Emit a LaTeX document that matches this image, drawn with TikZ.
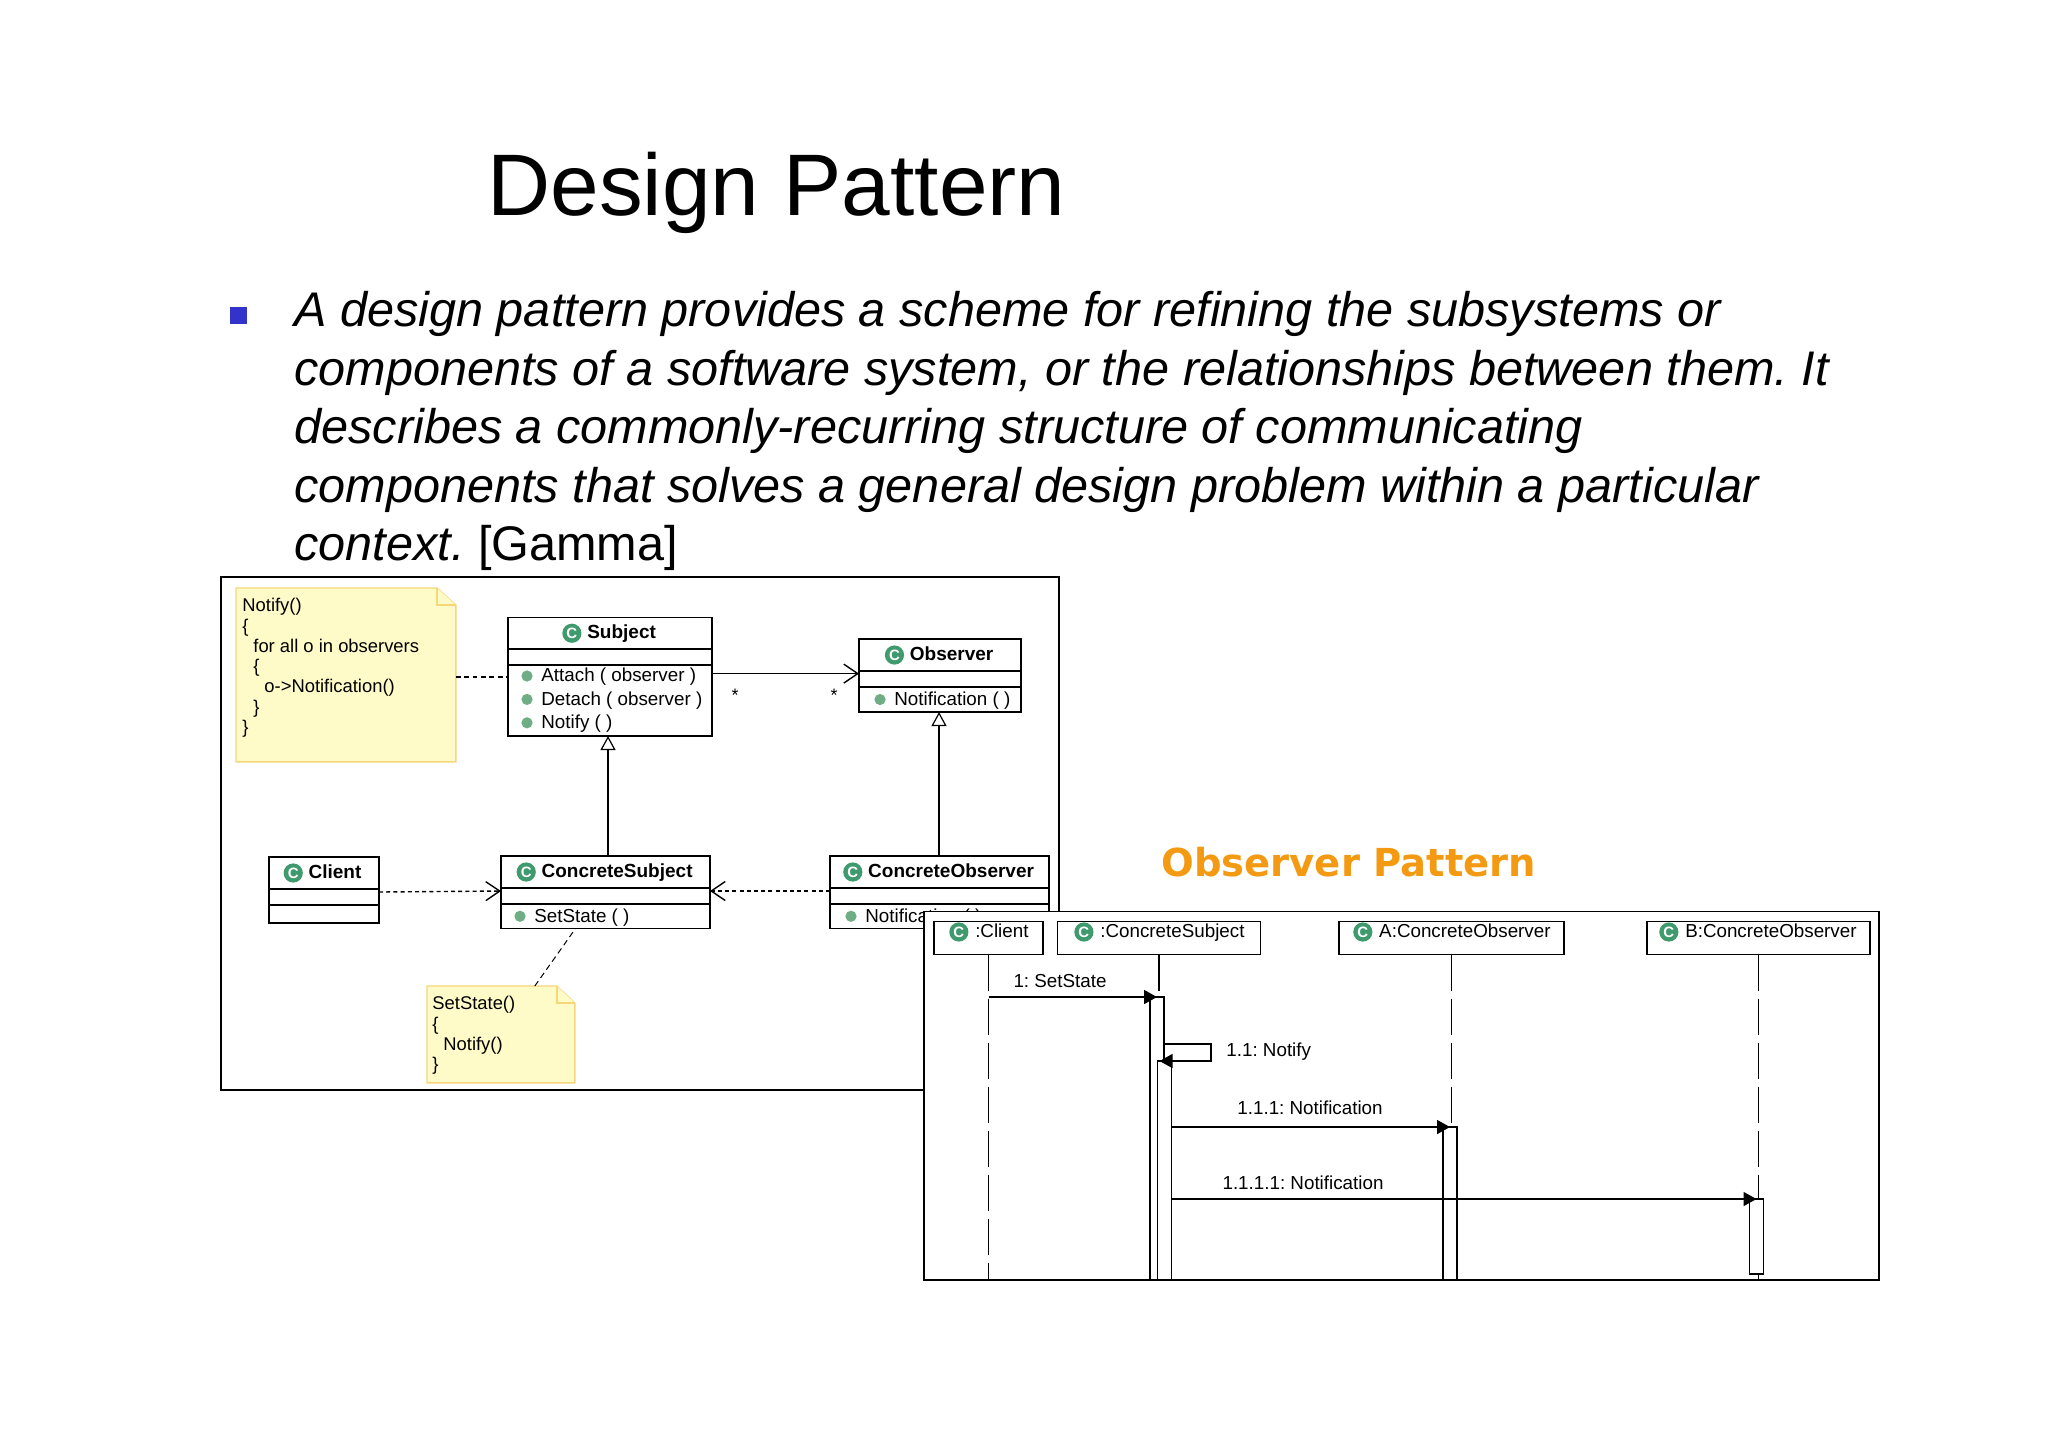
\documentclass[tikz,border=0pt]{standalone}
\usepackage{fontspec}
\setmainfont{Liberation Sans}
\newfontfamily\headingfont{DejaVu Sans}
\usetikzlibrary{positioning, arrows.meta, calc}
\definecolor{iconfill}{HTML}{3F9A6E}
\definecolor{dotfill}{HTML}{6FAE85}
\definecolor{notefill}{HTML}{FFFBC8}
\definecolor{noteedge}{HTML}{F5D77A}
\definecolor{bulletblue}{HTML}{3333CC}
\definecolor{patternorange}{HTML}{F39A12}
\frenchspacing

\begin{document}
\begin{tikzpicture}[x=0.5pt, y=-0.5pt,
    framebox/.style={draw, line width=0.8pt, fill=white},
    compart/.style={draw, line width=0.7pt, fill=white, inner sep=0pt, outer sep=0pt},
    titletext/.style={font=\fontsize{9.5}{11}\selectfont\bfseries, inner sep=0pt, text height=7pt, text depth=2pt},
    cicon/.style={circle, fill=iconfill, text=white, inner sep=0pt, minimum size=9.6pt, font=\fontsize{7.5}{8}\selectfont\bfseries},
    opdot/.style={circle, fill=dotfill, inner sep=0pt, minimum size=5.6pt},
    optext/.style={font=\fontsize{9.4}{11}\selectfont, inner sep=0pt, yshift=-0.5pt},
    notetext/.style={font=\fontsize{9.2}{10.15}\selectfont, align=left, inner sep=0pt, anchor=north west},
    noteline/.style={draw=noteedge, fill=notefill, line width=0.7pt},
    seqtext/.style={font=\fontsize{9.4}{11}\selectfont, inner sep=0pt, text height=7pt, text depth=2pt},
    lifeline/.style={line width=0.8pt, dash pattern=on 18pt off 4pt},
    actbox/.style={draw, line width=0.7pt, fill=white, minimum width=7pt, inner sep=0pt, outer sep=0pt, anchor=north},
    message/.style={line width=0.7pt, -{Triangle[length=6.5pt, width=7pt]}},
    inherit/.style={line width=0.6pt, -{Triangle[open, length=7pt, width=7.5pt]}},
    depend/.style={line width=0.7pt, dash pattern=on 2pt off 1.6pt, -{Straight Barb[length=7pt, width=9.5pt]}},
    bodyline/.style={font=\fontsize{24.3}{30}\selectfont\itshape, inner sep=0pt, anchor=base west}]
    \useasboundingbox (0,0) rectangle (2048,1447);

    % slide text
    \node[font=\fontsize{43.7}{50}\selectfont, inner sep=0pt, anchor=base west] (title) at (487,215.5) {Design Pattern};
    \node[fill=bulletblue, minimum size=8.5pt, inner sep=0pt] (bullet) at (238.5,315) {};
    \node[bodyline] (line1) at (294,326) {A design pattern provides a scheme for refining the subsystems or};
    \node[bodyline] (line2) at (294,385) {components of a software system, or the relationships between them. It};
    \node[bodyline] (line3) at (294,443.5) {describes a commonly-recurring structure of communicating};
    \node[bodyline] (line4) at (294,502) {components that solves a general design problem within a particular};
    \node[bodyline] (line5) at (294,560.5) {context. \upshape [Gamma]};

    % class diagram
    \draw[framebox] (221,577) rectangle (1059,1090);

    \node[inner sep=0pt, minimum width=109.5pt, minimum height=86.5pt, anchor=north west] (note1) at (236,588) {};
    \draw[noteline] (note1.north west) -- ([xshift=-9.5pt]note1.north east) -- ([yshift=-8.5pt]note1.north east)
        -- (note1.south east) -- (note1.south west) -- cycle;
    \draw[noteline] ([xshift=-9.5pt]note1.north east) -- ([xshift=-9.5pt,yshift=-8.5pt]note1.north east) -- ([yshift=-8.5pt]note1.north east);
    \node[notetext] (note1text) at ([xshift=3pt,yshift=-5pt]note1.north west)
        {Notify()\\\{\\\hspace{5.5pt}for all o in observers\\\hspace{5.5pt}\{\\\hspace{11pt}o->Notification()\\\hspace{5.5pt}\}\\\}};

    \node[inner sep=0pt, minimum width=73.5pt, minimum height=48pt, anchor=north west] (note2) at (427,986) {};
    \draw[noteline] (note2.north west) -- ([xshift=-9pt]note2.north east) -- ([yshift=-8.5pt]note2.north east)
        -- (note2.south east) -- (note2.south west) -- cycle;
    \draw[noteline] ([xshift=-9pt]note2.north east) -- ([xshift=-9pt,yshift=-8.5pt]note2.north east) -- ([yshift=-8.5pt]note2.north east);
    \node[notetext] (note2text) at ([xshift=2.5pt,yshift=-5pt]note2.north west)
        {SetState()\\\{\\\hspace{5.5pt}Notify()\\\}};

    % Subject
    \node[compart, minimum width=102pt, minimum height=15.75pt, anchor=north west] (subject) at (508,617.5) {};
    \node[compart, minimum width=102pt, minimum height=8pt, below=0pt of subject] (subjectattr) {};
    \node[compart, minimum width=102pt, minimum height=35.5pt, below=0pt of subjectattr] (subjectops) {};
    \node[titletext] (subjectname) at ([xshift=5.8pt]subject) {Subject};
    \node[cicon, left=2.5pt of subjectname] (subjecticon) {C};
    \node[opdot] (attachdot) at ([xshift=9.5pt,yshift=-5.5pt]subjectops.north west) {};
    \node[opdot, below=5.7pt of attachdot] (detachdot) {};
    \node[opdot, below=5.7pt of detachdot] (notifydot) {};
    \node[optext, right=4pt of attachdot] (attach) {Attach ( observer )};
    \node[optext, right=4pt of detachdot] (detach) {Detach ( observer )};
    \node[optext, right=4pt of notifydot] (notify) {Notify ( )};

    % Observer
    \node[compart, minimum width=81pt, minimum height=16pt, anchor=north west] (observer) at (859,639) {};
    \node[compart, minimum width=81pt, minimum height=8pt, below=0pt of observer] (observerattr) {};
    \node[compart, minimum width=81pt, minimum height=12.5pt, below=0pt of observerattr] (observerops) {};
    \node[titletext] (observername) at ([xshift=5.8pt]observer) {Observer};
    \node[cicon, left=2.5pt of observername] (observericon) {C};
    \node[opdot] (obsdot) at ([xshift=10.5pt]observerops.west) {};
    \node[optext, right=4pt of obsdot] (obsnotif) {Notification ( )};

    % Client
    \node[compart, minimum width=55pt, minimum height=16pt, anchor=north west] (client) at (269,857) {};
    \node[compart, minimum width=55pt, minimum height=8pt, below=0pt of client] (clientattr) {};
    \node[compart, minimum width=55pt, minimum height=9pt, below=0pt of clientattr] (clientops) {};
    \node[titletext] (clientname) at ([xshift=5.5pt]client) {Client};
    \node[cicon, left=2.5pt of clientname] (clienticon) {C};

    % ConcreteSubject
    \node[compart, minimum width=104.5pt, minimum height=16pt, anchor=north west] (csubject) at (501,856) {};
    \node[compart, minimum width=104.5pt, minimum height=8pt, below=0pt of csubject] (csubjectattr) {};
    \node[compart, minimum width=104.5pt, minimum height=12.25pt, below=0pt of csubjectattr] (csubjectops) {};
    \node[titletext] (csubjectname) at ([xshift=5.8pt]csubject) {ConcreteSubject};
    \node[cicon, left=2.5pt of csubjectname] (csubjecticon) {C};
    \node[opdot] (setstatedot) at ([xshift=9.5pt]csubjectops.west) {};
    \node[optext, right=4pt of setstatedot] (setstate) {SetState ( )};

    % ConcreteObserver
    \node[compart, minimum width=109.5pt, minimum height=16pt, anchor=north west] (cobserver) at (830,856) {};
    \node[compart, minimum width=109.5pt, minimum height=8pt, below=0pt of cobserver] (cobserverattr) {};
    \node[compart, minimum width=109.5pt, minimum height=12.25pt, below=0pt of cobserverattr] (cobserverops) {};
    \node[titletext] (cobservername) at ([xshift=5.8pt]cobserver) {ConcreteObserver};
    \node[cicon, left=2.5pt of cobservername] (cobservericon) {C};
    \node[opdot] (cobsdot) at ([xshift=10.5pt]cobserverops.west) {};
    \node[optext, right=4pt of cobsdot] (cobsnotif) {Notification ( )};

    \node[font=\fontsize{9}{10}\selectfont, inner sep=0pt] (manyleft) at (735,695) {*};
    \node[font=\fontsize{9}{10}\selectfont, inner sep=0pt] (manyright) at (834,695) {*};

    \draw[line width=0.7pt, -{Straight Barb[length=7pt, width=9.5pt]}] ([yshift=-4.3pt]subjectops.north east) -- ([yshift=-1.3pt]observerattr.north west);
    \draw[inherit] ([xshift=-1pt]csubject.north -| subjectops.south) -- ([xshift=-1pt]subjectops.south);
    \draw[inherit] ([xshift=-0.5pt]cobserver.north -| observerops.south) -- ([xshift=-0.5pt]observerops.south);
    \draw[depend] ([yshift=2.5pt]clientattr.east) -- ([yshift=2.5pt]csubjectattr.west);
    \draw[depend] ([yshift=2.5pt]cobserverattr.west) -- ([yshift=2.5pt]csubjectattr.east);
    \draw[line width=0.6pt, dash pattern=on 2.4pt off 1.8pt] (note1.east |- attach.west) -- (subjectops.west |- attach.west);
    \draw[line width=0.5pt, dash pattern=on 3pt off 2pt] ([xshift=-20pt]note2.north east) -- ([xshift=-15pt]csubjectops.south);

    % sequence diagram
    \node[framebox, inner sep=0pt, outer sep=0pt, minimum width=477.5pt, minimum height=184.25pt, anchor=north west] (seqframe) at (924,911.5) {};
    \node[compart, minimum width=54.5pt, minimum height=16.5pt, anchor=north west] (clientobj) at (934,921.5) {};
    \node[compart, minimum width=101.5pt, minimum height=16.5pt, anchor=north west] (csubjectobj) at (1057.5,921.5) {};
    \node[compart, minimum width=112.5pt, minimum height=16.5pt, anchor=north west] (aobj) at (1339,921.5) {};
    \node[compart, minimum width=111.5pt, minimum height=16.5pt, anchor=north west] (bobj) at (1647,921.5) {};
    \node[seqtext] (clientobjname) at ([xshift=6.7pt,yshift=3pt]clientobj) {:Client};
    \node[seqtext] (csubjectobjname) at ([xshift=6.7pt,yshift=3pt]csubjectobj) {:ConcreteSubject};
    \node[seqtext] (aobjname) at ([xshift=6.7pt,yshift=3pt]aobj) {A:ConcreteObserver};
    \node[seqtext] (bobjname) at ([xshift=6.2pt,yshift=3pt]bobj) {B:ConcreteObserver};
    \node[cicon, left=3pt of clientobjname] (clientobjicon) {C};
    \node[cicon, left=3pt of csubjectobjname] (csubjectobjicon) {C};
    \node[cicon, left=3pt of aobjname] (aobjicon) {C};
    \node[cicon, left=3pt of bobjname] (bobjicon) {C};

    \draw[lifeline] (clientobj.south) -- (clientobj.south |- seqframe.south);
    \draw[lifeline] (csubjectobj.south) -- (csubjectobj.south |- seqframe.south);
    \draw[lifeline] (aobj.south) -- (aobj.south |- seqframe.south);
    \draw[lifeline] (bobj.south) -- (bobj.south |- seqframe.south);

    \node[actbox, minimum height=141.5pt] (act1) at (1157,997) {};
    \node[actbox, minimum height=109.5pt] (act2) at (1164.5,1061) {};
    \node[actbox, minimum height=76.5pt] (acta) at (1450,1127) {};
    \node[actbox, minimum height=37.5pt] (actb) at (1756.5,1199) {};

    \coordinate (selfcorner) at (1211,1061);
    \draw[message] (clientobj.south |- act1.north) -- (act1.north);
    \draw[message] ([yshift=-23.5pt]act1.north east) -| (selfcorner) -- ([xshift=-6pt]act2.north east);
    \draw[message] (act2.east |- acta.north) -- (acta.north);
    \draw[message] (act2.east |- actb.north) -- (actb.north);

    \node[seqtext] (setstatemsg) at (1060,982) {1: SetState};
    \node[seqtext, anchor=west] (notifymsg) at (1226,1051) {1.1: Notify};
    \node[seqtext] (notifa) at (1310,1109) {1.1.1: Notification};
    \node[seqtext] (notifb) at (1303,1184) {1.1.1.1: Notification};

    \node[font=\fontsize{19.27}{22}\selectfont\headingfont\bfseries, text=patternorange, inner sep=0pt, anchor=base west] (pattern) at (1161,876.5) {Observer Pattern};
\end{tikzpicture}
\end{document}
